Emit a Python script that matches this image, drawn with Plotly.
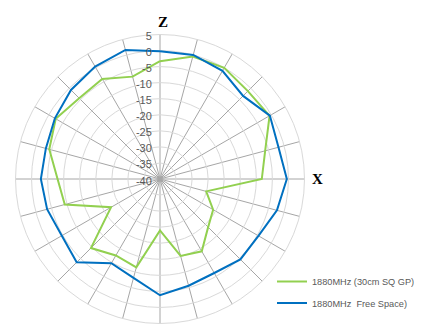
import plotly.graph_objects as go

angles = [0, 15, 30, 45, 60, 75, 90, 105, 120, 135, 150, 165,
          180, 195, 210, 225, 240, 255, 270, 285, 300, 315, 330, 345]

gp_30cm = [-3.3, -0.5, 0.0, -1.3, -0.6, -6.1, -8.3, -25.1, -20.9, -18.8, -14.0, -15.2,
           -24.0, -11.5, -12.5, -9.6, -22.4, -9.3, -8.1, -4.3, -2.5, -4.4, -4.0, -7.0]

free_space = [-0.2, 0.0, -1.1, -3.4, -0.5, -1.8, -0.5, -2.3, -4.6, -4.6, -6.2, -5.6,
              -3.8, -8.1, -9.7, -3.3, -4.7, -3.6, -2.9, -3.2, -2.2, -0.8, 0.4, 1.6]

series_names = ["1880MHz (30cm SQ GP)", "1880MHz  Free Space)"]
series_colors = ["#92d050", "#0070c0"]

radial_ticks = [-40, -35, -30, -25, -20, -15, -10, -5, 0, 5]

fig = go.Figure()
for name, vals, col in zip(series_names, [gp_30cm, free_space], series_colors):
    fig.add_trace(go.Scatterpolar(
        r=vals + vals[:1],
        theta=angles + angles[:1],
        mode="lines",
        name=name,
        line=dict(color=col, width=2),
        legendgroup=name,
    ))

# page body has an 8px margin: figure is sized to the visible area
OFF = 8
W, H = 422 - OFF, 326 - OFF
cx, cy, R = 160 - OFF, 179 - OFF, 144.5

fig.update_layout(
    width=W, height=H,
    margin=dict(l=0, r=0, t=0, b=0),
    paper_bgcolor="white",
    plot_bgcolor="white",
    font=dict(family="Liberation Sans, Arial, sans-serif", color="#595959"),
    polar=dict(
        domain=dict(x=[(cx - R) / W, (cx + R) / W],
                    y=[(H - cy - R) / H, (H - cy + R) / H]),
        gridshape="linear",
        bgcolor="white",
        radialaxis=dict(
            range=[-40, 5],
            tickvals=radial_ticks,
            ticktext=[str(t) for t in radial_ticks],
            angle=90,
            side="counterclockwise",
            showline=False,
            ticks="",
            gridcolor="#d9d9d9",
            gridwidth=1,
            tickfont=dict(size=11, color="#595959"),
        ),
        angularaxis=dict(
            tickmode="array",
            tickvals=angles,
            direction="clockwise",
            rotation=90,
            showticklabels=False,
            ticks="",
            gridcolor="#a6a6a6",
            gridwidth=1,
            showline=True,
            linecolor="#d9d9d9",
            linewidth=1,
            thetaunit="degrees",
        ),
    ),
    showlegend=True,
    legend=dict(
        x=(272 - OFF) / W, y=1 - (267 - OFF) / H,
        xanchor="left", yanchor="top",
        font=dict(size=9.2, color="#595959"),
        bgcolor="rgba(0,0,0,0)",
        tracegroupgap=2.5,
        itemwidth=30,
    ),
    annotations=[
        dict(text="<b>Z</b>", x=(163.3 - OFF) / W, y=1 - (22.3 - OFF) / H,
             xref="paper", yref="paper",
             showarrow=False, xanchor="center", yanchor="middle",
             font=dict(family="Liberation Serif, Times New Roman, serif", size=15, color="black")),
        dict(text="<b>X</b>", x=(317 - OFF) / W, y=1 - (179 - OFF) / H,
             xref="paper", yref="paper",
             showarrow=False, xanchor="center", yanchor="middle",
             font=dict(family="Liberation Serif, Times New Roman, serif", size=15, color="black")),
    ],
)

fig.write_html("out.html")
